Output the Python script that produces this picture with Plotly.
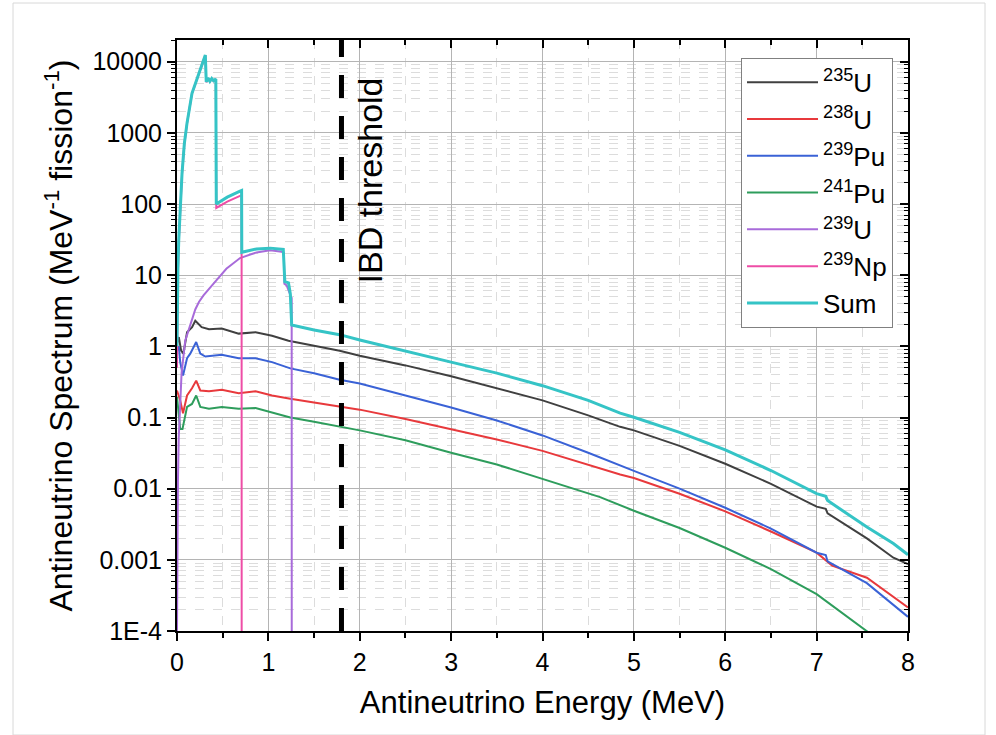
import plotly.graph_objects as go

# ---- spectra (MeV^-1 fission^-1) vs antineutrino energy (MeV) ----
U235_E = [0.0, 0.02, 0.045, 0.07, 0.11, 0.165, 0.2, 0.27, 0.35, 0.49, 0.675, 0.86, 1.04, 1.22,
          1.5, 1.78, 2.0, 2.5, 3.0, 3.5, 4.0, 4.5, 4.85, 5.0, 5.5, 6.0, 6.5, 7.0, 7.1, 7.12,
          7.55, 7.84, 8.0]
U235 = [1.10, 1.35, 0.87, 0.79, 1.58, 1.86, 2.29, 1.86, 1.74, 1.78, 1.51, 1.58, 1.41, 1.20,
        1.02, 0.87, 0.74, 0.54, 0.38, 0.26, 0.174, 0.107, 0.074, 0.066, 0.040, 0.0224, 0.0117,
        0.0056, 0.0052, 0.0045, 0.0020, 0.00107, 0.00087]

U238_E = [0.0, 0.035, 0.066, 0.11, 0.164, 0.21, 0.255, 0.35, 0.49, 0.675, 0.86, 1.04, 1.24,
          1.5, 1.78, 2.0, 2.5, 3.0, 3.5, 4.0, 4.5, 4.85, 5.0, 5.5, 6.0, 6.5, 7.0, 7.17, 7.55, 8.0]
U238 = [0.24, 0.174, 0.115, 0.204, 0.257, 0.33, 0.24, 0.234, 0.245, 0.219, 0.234, 0.204, 0.184,
        0.162, 0.143, 0.129, 0.095, 0.069, 0.049, 0.034, 0.0214, 0.0158, 0.0141, 0.0085, 0.0048,
        0.0025, 0.00126, 0.00083, 0.00056, 0.000214]

PU239_E = [0.0, 0.02, 0.035, 0.066, 0.11, 0.145, 0.21, 0.255, 0.31, 0.49, 0.675, 0.86, 1.04,
           1.24, 1.5, 1.78, 2.0, 2.5, 3.0, 3.5, 4.0, 4.5, 4.85, 5.0, 5.5, 6.0, 6.5, 7.0, 7.1,
           7.12, 7.55, 8.0]
PU239 = [0.87, 1.0, 0.60, 0.39, 0.68, 0.79, 1.15, 0.79, 0.72, 0.76, 0.68, 0.68, 0.60, 0.49,
         0.42, 0.34, 0.30, 0.204, 0.138, 0.091, 0.056, 0.032, 0.021, 0.0178, 0.010, 0.0054,
         0.00275, 0.00126, 0.00117, 0.00095, 0.00047, 0.000158]

PU241_E = [0.0, 0.035, 0.06, 0.11, 0.164, 0.21, 0.255, 0.35, 0.49, 0.675, 0.86, 1.04, 1.24,
           1.5, 1.78, 2.0, 2.5, 3.0, 3.5, 4.0, 4.5, 4.63, 5.0, 5.5, 6.0, 6.5, 7.0, 7.29, 7.6]
PU241 = [0.195, 0.069, 0.069, 0.141, 0.155, 0.204, 0.141, 0.133, 0.141, 0.133, 0.136, 0.117,
         0.100, 0.087, 0.074, 0.066, 0.048, 0.032, 0.0219, 0.0138, 0.0085, 0.0076, 0.0049,
         0.0028, 0.00148, 0.00074, 0.00033, 0.000174, 0.000089]

U239_E = [0.0, 0.004, 0.01, 0.019, 0.035, 0.05, 0.09, 0.165, 0.2, 0.24, 0.29, 0.4, 0.54, 0.69,
          0.87, 1.02, 1.145, 1.17, 1.175, 1.2, 1.22, 1.24, 1.25, 1.255, 1.256]
U239 = [0.0001, 0.002, 0.012, 0.052, 0.2, 0.42, 1.2, 2.3, 3.3, 4.2, 5.2, 7.6, 12.3, 17.4,
        20.9, 22.4, 21.4, 20.4, 7.6, 7.2, 6.2, 5.0, 4.9, 4.8, 1e-6]

NP239_E = [0.0, 0.004, 0.01, 0.019, 0.035, 0.055, 0.08, 0.11, 0.164, 0.237, 0.31, 0.32, 0.34,
           0.36, 0.38, 0.40, 0.425, 0.43, 0.55, 0.69, 0.707, 0.708]
NP239 = [0.5, 3, 11, 29, 86, 262, 685, 1360, 3560, 6850, 12300, 5150, 5850, 5250, 5750, 5350,
         5650, 88, 108, 130, 133, 1e-6]

SUM_E = [0.0, 0.004, 0.01, 0.019, 0.035, 0.055, 0.08, 0.11, 0.164, 0.237, 0.31, 0.32, 0.34,
         0.36, 0.38, 0.40, 0.425, 0.43, 0.55, 0.69, 0.707, 0.709, 0.87, 1.02, 1.163, 1.18, 1.22,
         1.24, 1.255, 1.5, 1.78, 2.0, 2.5, 3.0, 3.5, 4.0, 4.5, 4.85, 5.0, 5.5, 6.0, 6.5, 7.0,
         7.1, 7.12, 7.55, 7.84, 8.0]
SUM = [1.0, 4, 12, 31, 90, 270, 700, 1380, 3600, 6900, 12400, 5200, 5900, 5300, 5800, 5400,
       5700, 100, 125, 152, 155, 21, 23.4, 24, 23, 8.1, 7.8, 5.5, 2.0, 1.7, 1.46, 1.23, 0.87,
       0.60, 0.42, 0.28, 0.174, 0.115, 0.101, 0.062, 0.035, 0.018, 0.0085, 0.0078, 0.0068,
       0.0029, 0.0017, 0.00118]

IBD_THRESHOLD = 1.8  # MeV

Y_TICKS = [1e-4, 1e-3, 1e-2, 1e-1, 1, 10, 100, 1000, 10000]
Y_TICK_TEXT = ["1E-4", "0.001", "0.01", "0.1", "1", "10", "100", "1000", "10000"]

FONT = "Liberation Sans, Arial, sans-serif"

series = [
    ("<sup>235</sup>U", U235_E, U235, "#404040", 2),
    ("<sup>238</sup>U", U238_E, U238, "#E8393C", 2),
    ("<sup>239</sup>Pu", PU239_E, PU239, "#3A62D6", 2),
    ("<sup>241</sup>Pu", PU241_E, PU241, "#2E9D5C", 2),
    ("<sup>239</sup>U", U239_E, U239, "#A86BDA", 2),
    ("<sup>239</sup>Np", NP239_E, NP239, "#EE4DA6", 2),
    ("Sum", SUM_E, SUM, "#35C4C6", 3),
]

fig = go.Figure()
for name, xs, ys, color, w in series:
    fig.add_trace(go.Scatter(x=xs, y=ys, mode="lines", name=name,
                             line=dict(color=color, width=w)))

# minor log ticks at 2..9 of every decade
y_minor = [m * 10 ** d for d in range(-4, 5) for m in range(2, 10)]

axis_common = dict(showline=True, linecolor="black", linewidth=2, zeroline=False)

fig.update_layout(
    width=996, height=735,
    margin=dict(l=177, r=88, t=40, b=104),
    paper_bgcolor="white", plot_bgcolor="white",
    font=dict(family=FONT, color="black"),
    showlegend=True,
    legend=dict(x=0.9795, y=0.97, xanchor="right", yanchor="top",
                bgcolor="white", bordercolor="#808080", borderwidth=1,
                font=dict(size=26, family=FONT), tracegroupgap=0, itemwidth=71),
    xaxis=dict(
        range=[0, 8], dtick=1, tick0=0, ticks="outside", ticklen=8, tickwidth=2,
        tickcolor="black", tickfont=dict(size=25), showgrid=True,
        gridcolor="#b4b4b4", gridwidth=1,
        minor=dict(dtick=0.5, tick0=0, ticks="outside", ticklen=5, tickwidth=1.5,
                   tickcolor="black", showgrid=True, gridcolor="#dcdcdc",
                   griddash="dash", gridwidth=1),
        title=dict(text="Antineutrino Energy (MeV)", font=dict(size=31), standoff=16),
        **axis_common,
    ),
    yaxis=dict(
        type="log", range=[-4, 4.305], tickmode="array", tickvals=Y_TICKS,
        ticktext=Y_TICK_TEXT, ticks="outside", ticklen=8, tickwidth=2, tickcolor="black",
        tickfont=dict(size=25), showgrid=True, gridcolor="#b4b4b4", gridwidth=1,
        minor=dict(tickmode="array", tickvals=y_minor, ticks="outside", ticklen=4,
                   tickwidth=1, tickcolor="black", showgrid=True, gridcolor="#dcdcdc",
                   griddash="dash", gridwidth=1),
        title=dict(text="Antineutrino Spectrum (MeV<sup>-1</sup> fission<sup>-1</sup>)",
                   font=dict(size=32), standoff=10),
        **axis_common,
    ),
    # inward ticks along the top and right edges of the frame
    xaxis2=dict(overlaying="x", side="top", range=[0, 8], dtick=1, tick0=0,
                ticks="inside", ticklen=8, tickwidth=2, tickcolor="black",
                showticklabels=False, showgrid=False, anchor="y2",
                minor=dict(dtick=0.5, tick0=0, ticks="inside", ticklen=5, tickwidth=1.5,
                           tickcolor="black", showgrid=False),
                **axis_common),
    yaxis2=dict(overlaying="y", side="right", type="log", range=[-4, 4.305],
                tickmode="array", tickvals=Y_TICKS, ticks="inside", ticklen=8, tickwidth=2,
                tickcolor="black", showticklabels=False, showgrid=False, anchor="x2",
                minor=dict(tickmode="array", tickvals=y_minor, ticks="inside", ticklen=4,
                           tickwidth=1, tickcolor="black", showgrid=False),
                **axis_common),
)

# transparent carrier trace so the top/right axes get drawn
fig.add_trace(go.Scatter(x=[4], y=[1], xaxis="x2", yaxis="y2", mode="markers",
                         marker=dict(opacity=0, size=1), showlegend=False,
                         hoverinfo="skip"))

# IBD threshold marker
fig.add_shape(type="line", xref="x", yref="paper", x0=IBD_THRESHOLD, x1=IBD_THRESHOLD,
              y0=0, y1=1, line=dict(color="black", width=5, dash="23px,18px"))
fig.add_annotation(text="IBD threshold", xref="x", yref="paper", x=IBD_THRESHOLD + 0.31,
                   y=0.762, xanchor="center", yanchor="middle", textangle=-90,
                   showarrow=False, font=dict(size=34, family=FONT, color="black"))

# card outline around the figure
fig.add_shape(type="rect", xref="paper", yref="paper",
              x0=-164 / 731, x1=808 / 731, y0=-104 / 591, y1=628 / 591,
              line=dict(color="#d8d8d8", width=1), layer="below")

fig.write_html("out.html")
